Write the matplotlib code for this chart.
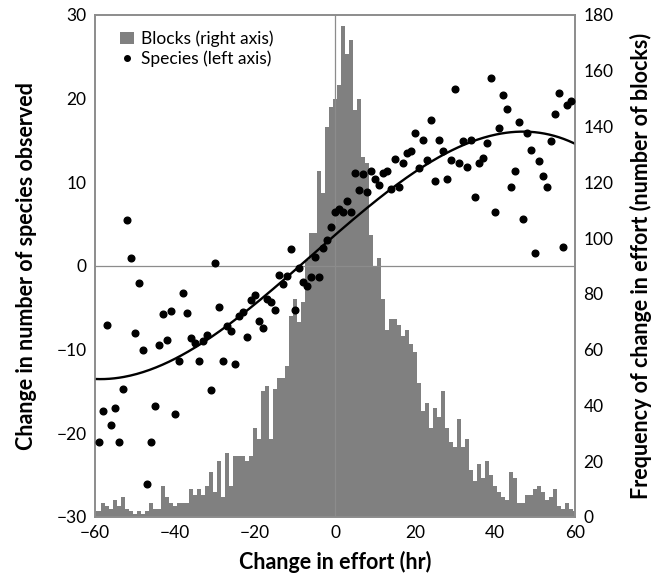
import numpy as np
import matplotlib
matplotlib.use('Agg')
import matplotlib.pyplot as plt
from matplotlib.patches import Patch
from matplotlib.lines import Line2D

plt.rcParams['font.family'] = ['Lato', 'DejaVu Sans']

# Histogram: number of blocks per 1-hr change in effort (bins centred -60..60)
bin_centres = list(range(-60, 61))
blocks = [2, 2, 5, 4, 3, 6, 4, 7, 3, 2, 1, 2, 1, 2, 5, 3, 3, 11, 7, 5,
          4, 5, 5, 5, 10, 8, 10, 8, 11,
          16, 9, 20, 7, 23, 11, 22, 22, 22, 20, 22, 32, 28, 45, 47, 28, 46, 50, 50, 54,
          72, 78, 70, 77, 92, 102, 102, 124, 116, 140, 147, 150, 155, 176, 166, 171,
          146, 150, 129, 127, 101, 90, 93, 78,
          67, 71, 71, 69, 65, 67, 62, 59, 48, 38, 41, 32, 39, 36, 45, 32, 27, 25,
          35, 25, 28, 17, 13, 19, 14, 20, 15, 11, 9, 7, 6, 16, 14, 5, 5, 8, 8, 10,
          11, 9, 6, 7, 10, 4, 3, 5, 3, 2]

# Mean change in species observed for each change in effort
effort_hr = list(range(-59, 60))
species = [-21.0, -17.3, -7.0, -19.0, -17.0, -21.0, -14.7, 5.5, 1.0, -8.0,
           -2.0, -10.0, -26.0, -21.0, -16.7, -9.4, -5.7, -8.8, -5.4, -17.7,
           -11.4, -3.2, -5.6, -8.6, -9.2, -11.3, -9.0, -8.2, -14.8, 0.4,
           -4.9, -11.4, -7.2, -7.8, -11.7, -6.0, -5.5, -8.5, -4.1, -3.5,
           -6.6, -7.4, -3.9, -4.3, -5.3, -1.1, -2.1, -1.2, 2.0, -5.3,
           -0.2, -1.9, -2.4, -1.3, 1.1, -1.3, 2.1, 3.1, 4.6, 6.4,
           6.8, 6.5, 7.8, 6.5, 11.1, 9.1, 11.0, 8.9, 11.4, 10.4,
           9.7, 11.1, 11.3, 9.2, 12.8, 9.5, 12.3, 13.5, 13.7, 15.9,
           11.7, 15.0, 12.7, 17.4, 10.1, 15.1, 13.7, 10.4, 12.7, 21.2,
           12.3, 14.9, 11.8, 15.1, 8.3, 12.3, 12.9, 14.7, 22.5, 6.5,
           16.5, 20.4, 18.8, 9.4, 11.4, 17.2, 5.6, 15.9, 13.9, 1.5,
           12.5, 10.7, 9.4, 14.9, 18.2, 20.7, 2.3, 19.2, 19.7]

# cubic trendline shown in the figure (highest power first)
trend_coef = [-5.02e-5, -0.000875, 0.415, 3.7]

frame_grey = '#8c8c8c'
bar_grey = '#808080'

fig = plt.figure(figsize=(6.64, 5.81), dpi=100)
ax = fig.add_axes([0.1431, 0.1102, 0.7229, 0.864])
ax2 = ax.twinx()

# histogram on right axis, drawn behind the points
ax2.bar(bin_centres, blocks, width=1.0, color=bar_grey, linewidth=0)
ax2.set_ylim(0, 180)
ax2.set_yticks(range(0, 181, 20))
ax.set_zorder(ax2.get_zorder() + 1)
ax.patch.set_visible(False)

# reference lines
ax.axhline(0, color=frame_grey, lw=0.9, zorder=1)
ax.axvline(0, color=frame_grey, lw=0.9, zorder=1)

# species points and trend line
ax.plot(effort_hr, species, 'o', color='black', ms=4.8, zorder=3)
xs = np.linspace(-60, 60, 300)
ax.plot(xs, np.polyval(trend_coef, xs), color='black', lw=1.7, zorder=2)

ax.set_xlim(-60, 60)
ax.set_ylim(-30, 30)
ax.set_xticks(range(-60, 61, 20))
ax.set_yticks(range(-30, 31, 10))
ax.set_xticklabels([str(v).replace('-', '\u2212') for v in range(-60, 61, 20)])
ax.set_yticklabels([str(v).replace('-', '\u2212') for v in range(-30, 31, 10)])

for a in (ax, ax2):
    a.tick_params(length=0, labelsize=12.5, pad=6)
    for s in a.spines.values():
        s.set_color(frame_grey)
        s.set_linewidth(1.2)

ax.set_xlabel('Change in effort (hr)', fontsize=15.5, fontweight='bold', labelpad=7)
ax.set_ylabel('Change in number of species observed', fontsize=15.5,
              fontweight='bold', labelpad=14)
ax2.set_ylabel('Frequency of change in effort (number of blocks)', fontsize=15.5,
               fontweight='bold', labelpad=12)

handles = [Patch(facecolor=bar_grey, edgecolor='none', label='Blocks (right axis)'),
           Line2D([], [], marker='o', color='black', ls='none', ms=4,
                  label='Species (left axis)')]
ax.legend(handles=handles, loc='upper left', frameon=False, fontsize=12.5,
          handlelength=0.8, handletextpad=0.4, labelspacing=0.2,
          borderaxespad=0.5, bbox_to_anchor=(0.02, 1.0))

fig.savefig('out.png', dpi=100)
